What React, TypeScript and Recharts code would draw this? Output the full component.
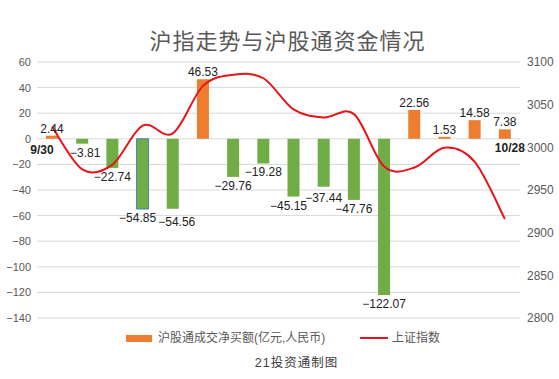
import { ComposedChart, Bar, Line, XAxis, YAxis, CartesianGrid, Cell, LabelList } from 'recharts'

// 2022 交易日
const dates = ['9/30', '10/10', '10/11', '10/12', '10/13', '10/14', '10/17', '10/18', '10/19', '10/20', '10/21', '10/24', '10/25', '10/26', '10/27', '10/28']
// 沪股通成交净买额(亿元)
const netBuy = [2.44, -3.81, -22.74, -54.85, -54.56, 46.53, -29.76, -19.28, -45.15, -37.44, -47.76, -122.07, 22.56, 1.53, 14.58, 7.38]
// 上证指数收盘
const shIndex = [3024.39, 2974.15, 2979.79, 3025.51, 3016.36, 3071.99, 3084.94, 3080.96, 3044.38, 3035.05, 3038.93, 2977.56, 2976.28, 2999.5, 2982.9, 2915.93]

const leftTicks = [60, 40, 20, 0, -20, -40, -60, -80, -100, -120, -140]
const rightTicks = [3100, 3050, 3000, 2950, 2900, 2850, 2800]

const data = dates.map((d, i) => ({ date: d, net: netBuy[i], idx: shIndex[i] }))

const FONT = "'Liberation Sans', Arial, 'Noto Sans CJK SC', sans-serif"
const ORANGE = '#ED7D31'
const GREEN = '#70AD47'
const RED = '#E8141C'

// hand-moved labels in the original (avoid overlaps)
const labelNudge: Record<number, [number, number]> = {
  1: [3, 0],
  3: [-5, 0],
  4: [4, 4],
  8: [-5, 0],
  9: [0, 2],
}

const fmtMinus = (v: number | string) => String(v).replace('-', '\u2212')

// excel-like smoothed line (catmull-rom through the points)
function smoothCurve(context: any) {
  let pts: [number, number][] = []
  return {
    areaStart() {},
    areaEnd() {},
    lineStart() {
      pts = []
    },
    lineEnd() {
      const n = pts.length
      if (!n) return
      context.moveTo(pts[0][0], pts[0][1])
      for (let i = 0; i < n - 1; i++) {
        const p0 = pts[Math.max(i - 1, 0)]
        const p1 = pts[i]
        const p2 = pts[i + 1]
        const p3 = pts[Math.min(i + 2, n - 1)]
        context.bezierCurveTo(
          p1[0] + (p2[0] - p0[0]) / 6,
          p1[1] + (p2[1] - p0[1]) / 6,
          p2[0] - (p3[0] - p1[0]) / 6,
          p2[1] - (p3[1] - p1[1]) / 6,
          p2[0],
          p2[1]
        )
      }
    },
    point(x: number, y: number) {
      pts.push([x, y])
    },
  }
}

function BarValueLabel(props: any) {
  const { x, y, width, height, value, index } = props
  const top = Math.min(y, y + height)
  const bottom = Math.max(y, y + height)
  const cx = x + width / 2
  const zeroY = value >= 0 ? bottom : top
  const ty = value >= 0 ? top - 3 : bottom + 13
  const [dx, dy] = labelNudge[index] || [0, 0]
  return (
    <g>
      <text x={cx + dx} y={ty + dy} textAnchor="middle" fontSize={12} fill="#222" fontFamily={FONT}>
        {fmtMinus(value.toFixed(2))}
      </text>
      {index === 0 && (
        <text x={cx - 10} y={zeroY + 15} textAnchor="middle" fontSize={12} fontWeight="bold" fill="#222" fontFamily={FONT}>
          {dates[0]}
        </text>
      )}
      {index === dates.length - 1 && (
        <text x={cx + 5} y={zeroY + 13} textAnchor="middle" fontSize={12} fontWeight="bold" fill="#222" fontFamily={FONT}>
          {dates[dates.length - 1]}
        </text>
      )}
    </g>
  )
}

export default function App() {
  return (
    <div style={{ position: 'relative', width: 559, height: 379, background: '#fff', fontFamily: FONT }}>
      <style>{`body{margin:0}`}</style>
      <div
        style={{
          position: 'absolute',
          top: 26,
          left: 16,
          width: 543,
          textAlign: 'center',
          fontSize: 22,
          lineHeight: '26px',
          color: '#595959',
          letterSpacing: 1,
          fontFamily: "'Noto Sans CJK SC', sans-serif",
        }}
      >
        沪指走势与沪股通资金情况
      </div>

      <ComposedChart width={559} height={379} data={data} margin={{ top: 62, right: 0, left: 0, bottom: 61 }}>
        <CartesianGrid yAxisId="left" vertical={false} stroke="#D9D9D9" />
        <XAxis dataKey="date" hide />
        <YAxis
          yAxisId="left"
          domain={[-140, 60]}
          ticks={leftTicks}
          width={37}
          axisLine={false}
          tickLine={false}
          tickSize={4}
          tickMargin={2}
          interval={0}
          tick={{ fontSize: 11, fill: '#595959', fontFamily: FONT }}
          tickFormatter={fmtMinus}
        />
        <YAxis
          yAxisId="right"
          orientation="right"
          domain={[2800, 3100]}
          ticks={rightTicks}
          width={39}
          axisLine={false}
          tickLine={false}
          tickSize={5}
          tickMargin={2}
          interval={0}
          tick={{ fontSize: 12, fill: '#595959', fontFamily: FONT }}
        />
        <Bar yAxisId="left" dataKey="net" barSize={12} fill={ORANGE} isAnimationActive={false}>
          {data.map((d, i) => (
            <Cell
              key={i}
              fill={d.net >= 0 ? ORANGE : GREEN}
              stroke={i === 3 ? '#4A7EBB' : 'none'}
              strokeWidth={i === 3 ? 1 : 0}
            />
          ))}
          <LabelList dataKey="net" content={<BarValueLabel />} />
        </Bar>
        <Line
          yAxisId="right"
          dataKey="idx"
          type={smoothCurve as any}
          stroke={RED}
          strokeWidth={2}
          dot={false}
          activeDot={false}
          isAnimationActive={false}
        />
      </ComposedChart>

      {/* legend */}
      <div style={{ position: 'absolute', top: 330, left: 0, width: 559, height: 16, fontSize: 12, color: '#595959' }}>
        <div style={{ position: 'absolute', left: 126, top: 5, width: 26, height: 7, background: ORANGE }} />
        <div style={{ position: 'absolute', left: 158, top: 0, lineHeight: '16px', whiteSpace: 'nowrap' }}>
          沪股通成交净买额(亿元,人民币)
        </div>
        <div style={{ position: 'absolute', left: 360, top: 7, width: 28, height: 2, background: RED }} />
        <div style={{ position: 'absolute', left: 392, top: 0, lineHeight: '16px', whiteSpace: 'nowrap' }}>上证指数</div>
      </div>

      <div
        style={{
          position: 'absolute',
          top: 355,
          left: 0,
          width: 559,
          paddingLeft: 34,
          boxSizing: 'border-box',
          textAlign: 'center',
          fontSize: 12.5,
          lineHeight: '16px',
          color: '#404040',
          letterSpacing: 1,
        }}
      >
        21投资通制图
      </div>
    </div>
  )
}
